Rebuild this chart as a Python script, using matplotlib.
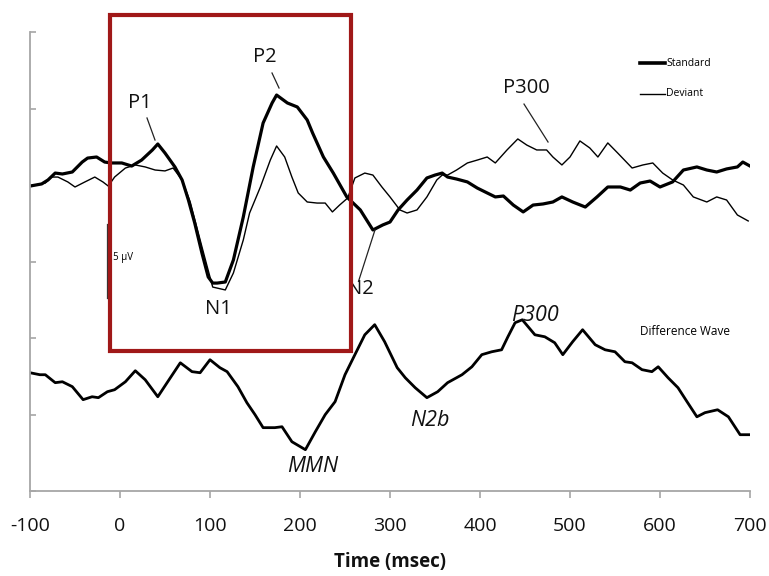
import numpy as np
import matplotlib
matplotlib.use("Agg")
import matplotlib.pyplot as plt
from matplotlib.patches import Rectangle

plt.rcParams["font.family"] = ["Open Sans", "DejaVu Sans"]
plt.rcParams["axes.unicode_minus"] = False

AXIS_COL = "#a6a6a6"
BOX_COL = "#a01818"

# Standard (thick) ERP, msec / microvolts
std_t = [-100, -87, -80, -72, -64, -53, -42, -36, -26, -17, -10, 2, 13, 24, 36, 42, 50, 61,
         69, 76, 83, 91, 98, 103, 108, 117, 126, 137, 148, 159, 169, 174, 186, 197, 208, 214,
         226, 237, 252, 267, 281, 292, 300, 309, 319, 330, 341, 350, 358, 364, 374, 386, 397,
         408, 417, 426, 437, 448, 459, 470, 481, 491, 503, 517, 530, 542, 556, 567, 578, 589,
         600, 614, 626, 641, 652, 663, 674, 686, 692, 700]
std_v = [-0.07, 0.07, 0.33, 0.78, 0.72, 0.85, 1.50, 1.76, 1.83, 1.50, 1.44, 1.44, 1.24, 1.63,
         2.29, 2.68, 2.09, 1.18, 0.33, -0.98, -2.48, -4.44, -6.01, -6.41, -6.41, -6.34, -4.90,
         -2.09, 1.18, 4.05, 5.36, 5.88, 5.36, 5.10, 4.25, 3.40, 1.83, 0.78, -0.78, -1.63, -2.94,
         -2.61, -2.42, -1.63, -0.98, -0.33, 0.46, 0.65, 0.78, 0.52, 0.39, 0.20, -0.20, -0.52,
         -0.78, -0.72, -1.31, -1.76, -1.31, -1.24, -1.11, -0.78, -1.11, -1.44, -0.78, -0.13,
         -0.13, -0.33, 0.13, 0.26, -0.13, 0.20, 0.98, 1.18, 0.98, 0.85, 1.05, 1.18, 1.50, 1.24]

# Deviant (thin) ERP
dev_t = [-100, -83, -76, -69, -58, -50, -39, -28, -19, -13, -6, 6, 17, 28, 39, 50, 59, 69, 78,
         87, 97, 103, 117, 126, 137, 144, 156, 167, 174, 183, 191, 198, 208, 219, 228, 236, 244,
         253, 261, 272, 281, 291, 300, 311, 319, 330, 341, 352, 358, 364, 374, 386, 397, 408,
         417, 430, 442, 452, 463, 474, 481, 491, 500, 511, 522, 531, 542, 553, 569, 581, 592,
         603, 614, 626, 637, 652, 663, 674, 686, 698]
dev_v = [-0.07, 0.13, 0.52, 0.52, 0.20, -0.13, 0.20, 0.52, 0.20, -0.07, 0.52, 1.11, 1.31, 1.18,
         0.98, 0.92, 1.11, 0.33, -1.11, -3.14, -5.36, -6.67, -6.86, -5.75, -3.59, -1.83, -0.13,
         1.63, 2.55, 1.83, 0.52, -0.52, -1.11, -1.18, -1.18, -1.76, -1.31, -0.85, 0.46, 0.78,
         0.65, -0.13, -0.78, -1.63, -1.83, -1.63, -0.78, 0.33, 0.65, 0.65, 0.98, 1.44, 1.63,
         1.83, 1.44, 2.29, 3.01, 2.61, 2.29, 2.29, 1.83, 1.31, 1.83, 2.88, 2.42, 1.83, 2.75,
         2.09, 1.11, 1.31, 1.44, 0.78, 0.33, 0.00, -0.78, -1.11, -0.78, -0.98, -1.96, -2.35]

# Difference wave (deviant - standard), drawn shifted down
diff_t = [-100, -89, -83, -72, -64, -53, -41, -31, -24, -14, -6, 6, 17, 28, 42, 53, 67, 80, 89,
          100, 111, 119, 131, 141, 150, 159, 172, 180, 191, 206, 217, 228, 239, 250, 261, 272,
          283, 294, 308, 317, 328, 341, 353, 364, 380, 391, 402, 413, 424, 431, 439, 447, 461,
          472, 483, 492, 503, 514, 528, 539, 550, 561, 569, 580, 591, 598, 609, 620, 630, 641,
          650, 664, 676, 689, 700]
diff_v = [0.13, 0.00, 0.00, -0.52, -0.46, -0.78, -1.63, -1.44, -1.50, -1.11, -0.98, -0.46, 0.26,
          -0.33, -1.44, -0.46, 0.78, 0.20, 0.13, 0.98, 0.46, 0.20, -0.78, -1.83, -2.61, -3.46,
          -3.46, -3.40, -4.38, -4.90, -3.73, -2.61, -1.76, 0.00, 1.31, 2.61, 3.27, 2.16, 0.46,
          -0.20, -0.85, -1.50, -1.11, -0.52, 0.00, 0.52, 1.31, 1.50, 1.63, 2.48, 3.40, 3.59,
          2.61, 2.48, 2.09, 1.31, 2.16, 2.94, 1.96, 1.63, 1.50, 0.85, 0.78, 0.33, 0.20, 0.52,
          -0.20, -0.85, -1.76, -2.75, -2.48, -2.29, -2.75, -3.92, -3.92]
DIFF_OFFSET = -12.4

x_ticks = [-100, 0, 100, 200, 300, 400, 500, 600, 700]
y_ticks = [-20, -15, -10, -5, 0, 5, 10]

fig = plt.figure(figsize=(7.69, 5.76), dpi=100, facecolor="white")
ax = fig.add_axes([30 / 769, 85 / 576, 720 / 769, 459 / 576])

ax.plot(std_t, std_v, color="black", linewidth=2.3, solid_joinstyle="round", label="Standard")
ax.plot(dev_t, dev_v, color="black", linewidth=1.0, label="Deviant")
ax.plot(diff_t, np.array(diff_v) + DIFF_OFFSET, color="black", linewidth=2.0,
        solid_joinstyle="round")

ax.set_xlim(-100, 700)
ax.set_ylim(-20, 10)
ax.set_xticks(x_ticks)
ax.set_yticks(y_ticks)
ax.set_yticklabels([])
for side in ("top", "right"):
    ax.spines[side].set_visible(False)
for side in ("left", "bottom"):
    ax.spines[side].set_color(AXIS_COL)
    ax.spines[side].set_linewidth(1.3)
ax.tick_params(axis="x", direction="out", length=5, width=1.2, color=AXIS_COL,
               labelsize=14, pad=14, labelcolor="#111111")
ax.tick_params(axis="y", direction="in", length=4, width=1.2, color=AXIS_COL)
ax.set_xlabel("Time (msec)", fontsize=13.5, fontweight="bold", labelpad=12, color="#111111")

# highlighted window
ax.add_patch(Rectangle((-11, -10.85), 267.7, 21.95, fill=False, edgecolor=BOX_COL,
                       linewidth=3.0, clip_on=False, zorder=5))

# 5 uV scale bar
ax.plot([-14.4, -14.4], [-2.55, -7.39], color="#333333", linewidth=0.9)
ax.text(-8, -4.77, "5 µV", fontsize=7, va="center", ha="left")

# component labels
lab = dict(fontsize=14.5, ha="center", va="center", color="#111111")
ital = dict(fontsize=15.5, ha="center", va="center", color="#111111", style="italic")
ax.text(22, 5.36, "P1", **lab)
ax.plot([30, 38.9], [4.38, 2.94], color="#222222", linewidth=0.9)
ax.text(161, 8.37, "P2", **lab)
ax.plot([168.9, 176.7], [7.32, 6.34], color="#222222", linewidth=0.9)
ax.text(452, 6.34, "P300", **lab)
ax.plot([448.9, 475.6], [5.29, 2.81], color="#222222", linewidth=0.9)
ax.text(266.7, -6.8, "N2", **lab)
ax.plot([283.3, 265], [-2.94, -6.3], color="#222222", linewidth=0.9)
ax.text(108.9, -8.1, "N1", **lab)
ax.text(214.4, -18.43, "MMN", **ital)
ax.text(344.4, -15.36, "N2b", **ital)
ax.text(461, -8.5, "P300", **ital)
ax.text(628, -9.6, "Difference Wave", fontsize=8.5, ha="center", va="center")

# legend drawn by hand, like the original
ax.plot([577.8, 605.6], [7.97, 7.97], color="black", linewidth=2.6)
ax.text(606.7, 7.97, "Standard", fontsize=7.5, va="center", ha="left")
ax.plot([577.8, 605.6], [5.95, 5.95], color="black", linewidth=1.0)
ax.text(606.7, 5.95, "Deviant", fontsize=7.5, va="center", ha="left")

fig.savefig("out.png", dpi=100, facecolor="white")
